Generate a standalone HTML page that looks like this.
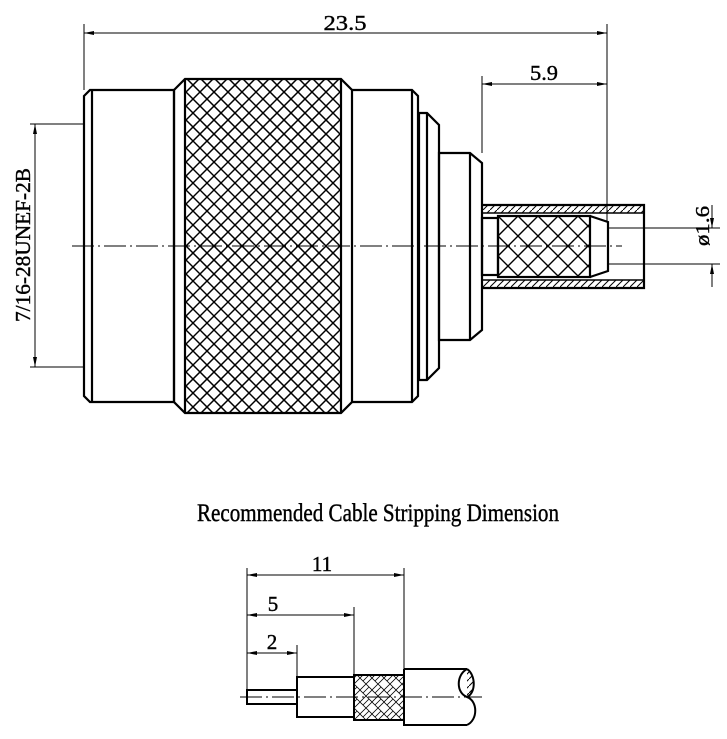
<!DOCTYPE html>
<html><head><meta charset="utf-8"><style>html,body{margin:0;padding:0;background:#fff}svg{display:block}</style></head><body>
<svg width="727" height="739" viewBox="0 0 727 739" xmlns="http://www.w3.org/2000/svg">
<defs>
<clipPath id="kc"><rect x="185" y="79" width="156" height="334"/></clipPath>
<pattern id="knurl2" width="20" height="20" patternUnits="userSpaceOnUse" x="498" y="216">
<path d="M0 0L20 20M20 0L0 20" stroke="#000" stroke-width="1.4"/>
</pattern>
<pattern id="hatch" width="7" height="7" patternUnits="userSpaceOnUse">
<path d="M0 7L7 0" stroke="#000" stroke-width="1"/>
</pattern>
<pattern id="weave" width="12" height="12" patternUnits="userSpaceOnUse">
<path d="M0 6L6 0M3 9L9 3M6 12L12 6M6 0L12 6M0 6L6 12" stroke="#000" stroke-width="0.8"/>
</pattern>
<marker id="ar" viewBox="0 0 10 6" refX="10" refY="3" markerWidth="10" markerHeight="6" orient="auto-start-reverse" markerUnits="userSpaceOnUse"><path d="M0 1L10 3L0 5z" fill="#000"/></marker>
</defs>
<g clip-path="url(#kc)" stroke="#000" stroke-width="1.5" fill="none">
<path d="M-149 79L185 413M-135 79L199 413M-121 79L213 413M-107 79L227 413M-93 79L241 413M-79 79L255 413M-65 79L269 413M-51 79L283 413M-37 79L297 413M-23 79L311 413M-9 79L325 413M5 79L339 413M19 79L353 413M33 79L367 413M47 79L381 413M61 79L395 413M75 79L409 413M89 79L423 413M103 79L437 413M117 79L451 413M131 79L465 413M145 79L479 413M159 79L493 413M173 79L507 413M187 79L521 413M201 79L535 413M215 79L549 413M229 79L563 413M243 79L577 413M257 79L591 413M271 79L605 413M285 79L619 413M299 79L633 413M313 79L647 413M327 79L661 413M341 79L675 413"/>
<path d="M185 79L-149 413M199 79L-135 413M213 79L-121 413M227 79L-107 413M241 79L-93 413M255 79L-79 413M269 79L-65 413M283 79L-51 413M297 79L-37 413M311 79L-23 413M325 79L-9 413M339 79L5 413M353 79L19 413M367 79L33 413M381 79L47 413M395 79L61 413M409 79L75 413M423 79L89 413M437 79L103 413M451 79L117 413M465 79L131 413M479 79L145 413M493 79L159 413M507 79L173 413M521 79L187 413M535 79L201 413M549 79L215 413M563 79L229 413M577 79L243 413M591 79L257 413M605 79L271 413M619 79L285 413M633 79L299 413M647 79L313 413M661 79L327 413M675 79L341 413"/>
</g>
<g fill="none" stroke="#000" stroke-width="2.2">
<path d="M84 96L90 90H174V402H90L84 396Z"/>
<line x1="92" y1="90" x2="92" y2="402"/>
<path d="M174 90L185 79H341L352 90V402L341 413H185L174 402Z"/>
<line x1="185" y1="79" x2="185" y2="413"/>
<line x1="341" y1="79" x2="341" y2="413"/>
<path d="M352 90H412L418 96V396L412 402H352"/>
<line x1="412" y1="90" x2="412" y2="402"/>
<path d="M419 113H427L439 125V368L427 380H419Z"/>
<line x1="427" y1="113" x2="427" y2="380"/>
<path d="M439 153H470L482 163V330L470 340H439Z"/>
<line x1="470" y1="153" x2="470" y2="340"/>
<rect x="482" y="205" width="162" height="8" fill="url(#hatch)" stroke="none"/>
<rect x="482" y="280" width="162" height="8" fill="url(#hatch)" stroke="none"/>
<path d="M482 205H644V288H482"/>
<line x1="482" y1="213" x2="644" y2="213" stroke-width="1.5"/>
<line x1="482" y1="280" x2="644" y2="280" stroke-width="1.5"/>
<rect x="482" y="218" width="16" height="57"/>
<rect x="498" y="216" width="92" height="61" fill="url(#knurl2)"/>
<path d="M590 216L608 222V271L590 277"/>
</g>
<g stroke="#000" stroke-width="1" fill="none">
<line x1="72" y1="246" x2="622" y2="246" stroke-dasharray="22,4,2,4"/>
<line x1="84" y1="24" x2="84" y2="90"/>
<line x1="607" y1="24" x2="607" y2="222"/>
<line x1="84" y1="33" x2="607" y2="33" marker-start="url(#ar)" marker-end="url(#ar)"/>
<line x1="482" y1="76" x2="482" y2="153"/>
<line x1="482" y1="84" x2="607" y2="84" marker-start="url(#ar)" marker-end="url(#ar)"/>
<line x1="608" y1="228" x2="720" y2="228"/>
<line x1="608" y1="264" x2="720" y2="264"/>
<line x1="712" y1="205" x2="712" y2="228" marker-end="url(#ar)"/>
<line x1="712" y1="287" x2="712" y2="264" marker-end="url(#ar)"/>
<line x1="30" y1="124" x2="84" y2="124"/>
<line x1="30" y1="367" x2="84" y2="367"/>
<line x1="35" y1="124" x2="35" y2="367" marker-start="url(#ar)" marker-end="url(#ar)"/>
<line x1="247" y1="568" x2="247" y2="690"/>
<line x1="404" y1="568" x2="404" y2="669"/>
<line x1="354" y1="607" x2="354" y2="675"/>
<line x1="297" y1="645" x2="297" y2="677"/>
<line x1="247" y1="575" x2="404" y2="575" marker-start="url(#ar)" marker-end="url(#ar)"/>
<line x1="247" y1="615" x2="354" y2="615" marker-start="url(#ar)" marker-end="url(#ar)"/>
<line x1="247" y1="653" x2="297" y2="653" marker-start="url(#ar)" marker-end="url(#ar)"/>
<line x1="240" y1="697" x2="482" y2="697" stroke-dasharray="22,4,2,4"/>
</g>
<g fill="none" stroke="#000" stroke-width="2">
<rect x="247" y="690" width="50" height="14"/>
<rect x="297" y="677" width="57" height="40"/>
<rect x="354" y="675" width="50" height="45" fill="url(#weave)"/>
<path d="M404 669H467M404 669V725H467"/>
<path d="M467 669C456 675 456 693 467 697C478 701 478 720 467 725"/>
<path d="M467 669C476 675 476 693 467 697" fill="url(#hatch)"/>
</g>
<g font-family="'Liberation Serif',serif" fill="#000" stroke="#000" stroke-width="0.4">
<text x="345" y="30" font-size="21" text-anchor="middle" textLength="43" lengthAdjust="spacingAndGlyphs">23.5</text>
<text x="544" y="80" font-size="21" text-anchor="middle" textLength="28" lengthAdjust="spacingAndGlyphs">5.9</text>
<text transform="translate(709,226) rotate(-90)" font-size="20" text-anchor="middle" textLength="40" lengthAdjust="spacingAndGlyphs">ø1.6</text>
<text transform="translate(30,245) rotate(-90)" font-size="21" text-anchor="middle" textLength="154" lengthAdjust="spacingAndGlyphs">7/16-28UNEF-2B</text>
<text x="197" y="521" font-size="25" textLength="362" lengthAdjust="spacingAndGlyphs">Recommended  Cable Stripping Dimension</text>
<text x="322" y="571" font-size="21" text-anchor="middle">11</text>
<text x="273" y="611" font-size="21" text-anchor="middle">5</text>
<text x="272" y="649" font-size="21" text-anchor="middle">2</text>
</g>
</svg>
</body></html>
